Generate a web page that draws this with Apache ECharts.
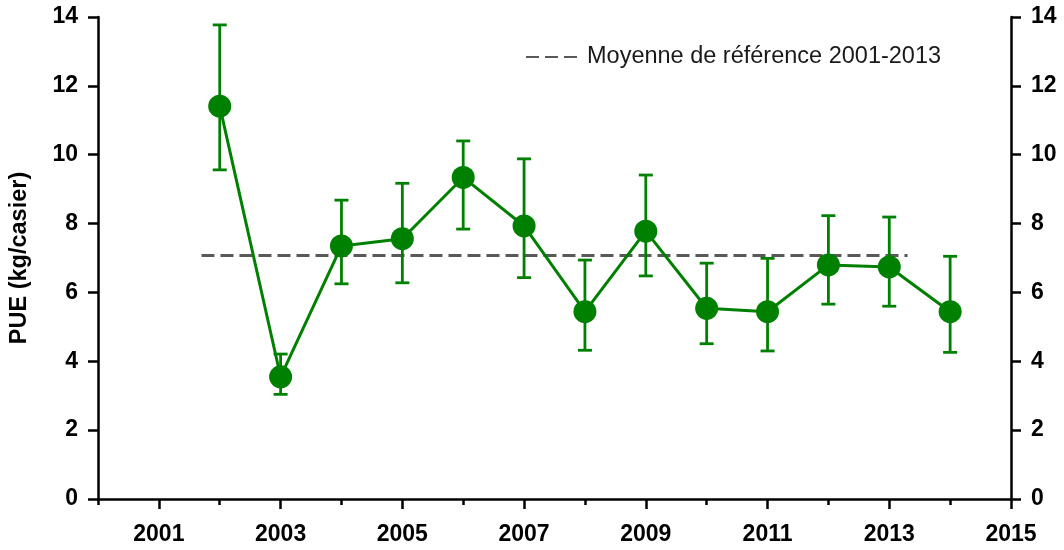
<!DOCTYPE html>
<html>
<head>
<meta charset="utf-8">
<title>PUE</title>
<script src="https://cdn.jsdelivr.net/npm/echarts@6.0.0/dist/echarts.min.js"></script>
<style>
  html, body { margin: 0; padding: 0; background: #fff; }
  #chart { width: 1064px; height: 550px; }
</style>
</head>
<body>
<div id="chart"></div>
<script>
  // valeurs
  var years = [2002, 2003, 2004, 2005, 2006, 2007, 2008, 2009, 2010, 2011, 2012, 2013, 2014];
  var pue = [11.41, 3.55, 7.35, 7.56, 9.34, 7.93, 5.44, 7.78, 5.54, 5.44, 6.80, 6.74, 5.44];
  var errLow = [9.56, 3.04, 6.25, 6.28, 7.84, 6.43, 4.32, 6.48, 4.51, 4.30, 5.66, 5.60, 4.26];
  var errHigh = [13.77, 4.21, 8.68, 9.17, 10.40, 9.88, 6.94, 9.41, 6.85, 6.99, 8.23, 8.19, 7.05];
  var meanName = 'Moyenne de référence 2001-2013';
  var meanValue = 7.07;
  var meanSpan = [2001.7, 2013.3];
  var xLabelYears = [2001, 2003, 2005, 2007, 2009, 2011, 2013, 2015];
  var xMinorYears = [2000, 2002, 2004, 2006, 2008, 2010, 2012, 2014];

  var green = '#008000';
  var font = 'Liberation Sans, Arial, sans-serif';

  var chart = echarts.init(document.getElementById('chart'));

  var yAxisCommon = {
    type: 'value',
    min: 0,
    max: 14,
    interval: 2,
    splitLine: {show: false},
    axisLine: {show: true, lineStyle: {color: '#000', width: 2.5}},
    axisTick: {show: true, inside: false, length: 10, lineStyle: {color: '#000', width: 2.5}},
    axisLabel: {color: '#000', fontSize: 23, fontWeight: 'bold', fontFamily: font, margin: 20}
  };

  var option = {
    backgroundColor: '#fff',
    animation: false,
    grid: {left: 98, right: 53, top: 17, bottom: 51, containLabel: false},
    legend: {
      data: [meanName],
      left: 520,
      top: 40,
      itemWidth: 56,
      itemHeight: 14,
      itemGap: 12,
      itemStyle: {opacity: 0},
      textStyle: {color: '#1a1a1a', fontSize: 23.5, fontFamily: font}
    },
    xAxis: [
      {
        type: 'value',
        min: 2000,
        max: 2015,
        interval: 1,
        position: 'bottom',
        splitLine: {show: false},
        axisLine: {show: true, onZero: false, lineStyle: {color: '#000', width: 2.5}},
        axisTick: {show: true, length: 10, customValues: xLabelYears, lineStyle: {color: '#000', width: 2.5}},
        axisLabel: {
          customValues: xLabelYears,
          formatter: function (v) { return String(v); },
          color: '#000', fontSize: 23, fontWeight: 'bold', fontFamily: font, margin: 24
        }
      },
      {
        // petites graduations des années paires
        type: 'value',
        min: 2000,
        max: 2015,
        interval: 1,
        position: 'bottom',
        splitLine: {show: false},
        axisLine: {show: false, onZero: false},
        axisTick: {show: true, length: 6, customValues: xMinorYears, lineStyle: {color: '#000', width: 2.5}},
        axisLabel: {show: false}
      }
    ],
    yAxis: [
      Object.assign({}, yAxisCommon, {
        position: 'left',
        name: 'PUE (kg/casier)',
        nameLocation: 'middle',
        nameGap: 66,
        nameRotate: 90,
        nameTextStyle: {color: '#000', fontSize: 23.5, fontWeight: 'bold', fontFamily: font}
      }),
      Object.assign({}, yAxisCommon, {position: 'right'})
    ],
    series: [
      {
        name: meanName,
        type: 'line',
        xAxisIndex: 0,
        yAxisIndex: 0,
        symbol: 'none',
        data: [[meanSpan[0], meanValue], [meanSpan[1], meanValue]],
        itemStyle: {color: '#595959'},
        lineStyle: {color: '#595959', width: 3, type: [13, 6]},
        z: 1
      },
      {
        // barres d'erreur
        name: 'erreur',
        type: 'custom',
        xAxisIndex: 0,
        yAxisIndex: 0,
        data: years.map(function (y, i) { return [y, errLow[i], errHigh[i]]; }),
        encode: {x: 0, y: [1, 2]},
        renderItem: function (params, api) {
          var x = api.value(0);
          var lo = api.coord([x, api.value(1)]);
          var hi = api.coord([x, api.value(2)]);
          var half = 7;
          var style = {stroke: green, lineWidth: 2.8};
          return {
            type: 'group',
            children: [
              {type: 'line', shape: {x1: lo[0], y1: lo[1], x2: hi[0], y2: hi[1]}, style: style},
              {type: 'line', shape: {x1: hi[0] - half, y1: hi[1], x2: hi[0] + half, y2: hi[1]}, style: style},
              {type: 'line', shape: {x1: lo[0] - half, y1: lo[1], x2: lo[0] + half, y2: lo[1]}, style: style}
            ]
          };
        },
        z: 2
      },
      {
        name: 'PUE',
        type: 'line',
        xAxisIndex: 0,
        yAxisIndex: 0,
        symbol: 'circle',
        symbolSize: 23,
        data: years.map(function (y, i) { return [y, pue[i]]; }),
        itemStyle: {color: green},
        lineStyle: {color: green, width: 3},
        z: 3
      }
    ]
  };

  chart.setOption(option);
</script>
</body>
</html>
